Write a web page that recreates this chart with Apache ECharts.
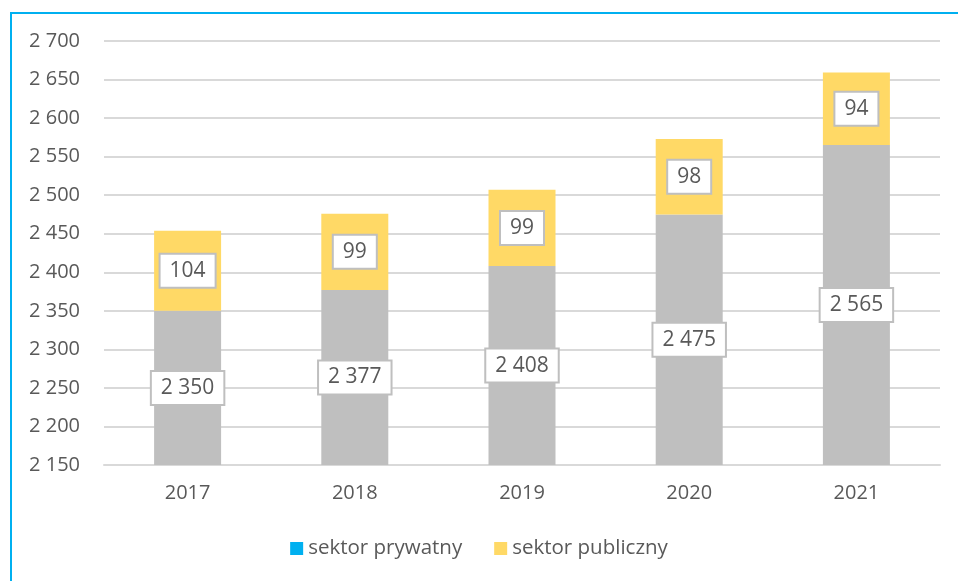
<!DOCTYPE html>
<html>
<head>
<meta charset="utf-8">
<script src="https://cdn.jsdelivr.net/npm/echarts@6/dist/echarts.min.js"></script>
<style>
  html, body { margin: 0; padding: 0; background: #fff; }
  #frame { position: absolute; left: 10px; top: 12px; right: 0; bottom: 0;
           border-left: 2px solid #00B0F0; border-top: 2px solid #00B0F0; }
  #chart { position: absolute; left: 0; top: 0; width: 958px; height: 581px; }
</style>
</head>
<body>
<div id="frame"></div>
<div id="chart"></div>
<script>
const years = ['2017', '2018', '2019', '2020', '2021']
const prywatny = [2350, 2377, 2408, 2475, 2565]
const publiczny = [104, 99, 99, 98, 94]

const fmt = v => String(v).replace(/\B(?=(\d{3})+(?!\d))/g, ' ')

const labelBox = {
  show: true,
  position: 'inside',
  color: '#595959',
  fontSize: 21,
  fontFamily: 'Open Sans',
  backgroundColor: '#fff',
  borderColor: '#BFBFBF',
  borderWidth: 2,
  padding: [7, 9, 4, 9],
  formatter: p => fmt(p.value)
}

const c = echarts.init(document.getElementById('chart'))
c.setOption({
  animation: false,
  grid: { left: 104, right: 18, top: 41, bottom: 116 },
  legend: {
    bottom: 17,
    left: 'center',
    icon: 'rect',
    itemWidth: 13,
    itemHeight: 13,
    itemGap: 32,
    textStyle: { color: '#595959', fontSize: 20.5, fontFamily: 'Open Sans' },
    data: [
      { name: 'sektor prywatny', itemStyle: { color: '#00B0F0' } },
      { name: 'sektor publiczny', itemStyle: { color: '#FFD966' } }
    ]
  },
  xAxis: {
    type: 'category',
    data: years,
    axisLine: { lineStyle: { color: '#D9D9D9', width: 2 } },
    axisTick: { show: false },
    axisLabel: { color: '#595959', fontSize: 20, fontFamily: 'Open Sans', margin: 18 }
  },
  yAxis: {
    type: 'value',
    min: 2150,
    max: 2700,
    interval: 50,
    axisLine: { show: false },
    axisTick: { show: false },
    splitLine: { lineStyle: { color: '#D9D9D9', width: 2 } },
    axisLabel: { color: '#595959', fontSize: 20, fontFamily: 'Open Sans', margin: 24, formatter: fmt }
  },
  series: [
    {
      name: 'sektor prywatny',
      type: 'bar',
      stack: 'total',
      barWidth: 67,
      data: prywatny,
      itemStyle: { color: '#BFBFBF' },
      label: labelBox
    },
    {
      name: 'sektor publiczny',
      type: 'bar',
      stack: 'total',
      barWidth: 67,
      data: publiczny,
      itemStyle: { color: '#FFD966' },
      label: labelBox
    }
  ]
})
</script>
</body>
</html>
